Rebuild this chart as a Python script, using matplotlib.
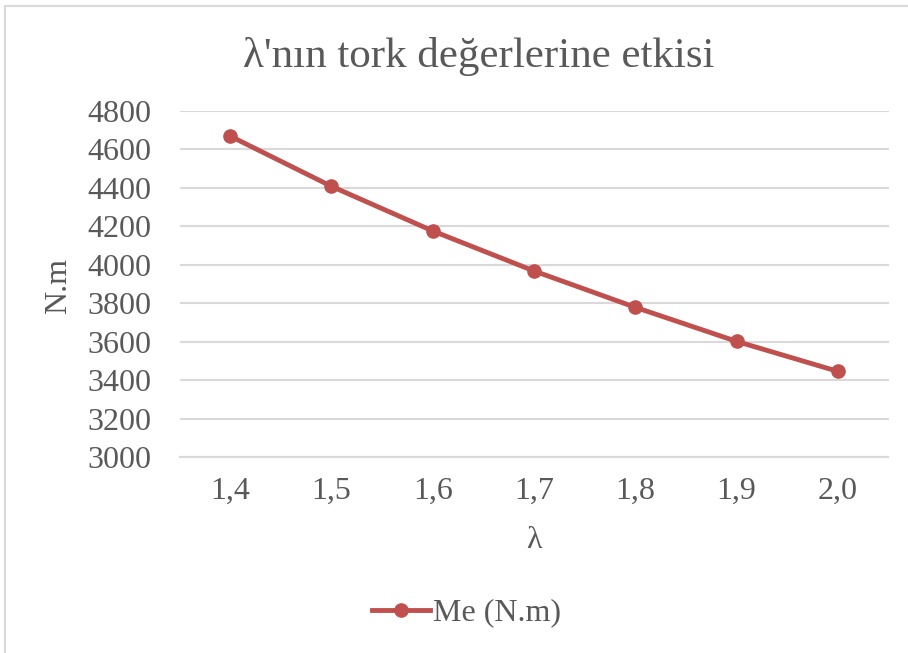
import matplotlib.pyplot as plt
from matplotlib.patches import Rectangle

## Data
lam = ['1,4', '1,5', '1,6', '1,7', '1,8', '1,9', '2,0']
me = [4668, 4407, 4175, 3967, 3778, 3601, 3445]
yticks = [3000, 3200, 3400, 3600, 3800, 4000, 4200, 4400, 4600, 4800]

plt.rcParams['font.family'] = ['Liberation Serif', 'DejaVu Serif']
txt = '#595959'
red = '#C0504D'
grid = '#D9D9D9'

fig = plt.figure(figsize=(9.08, 6.53), dpi=100)

## Chart border (cropped at right/bottom like the picture)
fig.patches.append(Rectangle((5 / 908, -0.1), 1.2, 1 - 6 / 653 + 0.1,
                             transform=fig.transFigure, fill=False,
                             edgecolor=grid, linewidth=1.5))

ax = fig.add_axes([179.5 / 908, 1 - 457 / 653, 709 / 908, (457 - 110.7) / 653])
x = range(len(lam))
ax.plot(x, me, color=red, linewidth=3.5, marker='o', markersize=9.5,
        label='Me (N.m)')

ax.set_xlim(-0.5, len(lam) - 0.5)
ax.set_ylim(3000, 4800)
ax.set_yticks(yticks)
ax.set_xticks(list(x))
ax.set_xticklabels(lam)
ax.grid(axis='y', color=grid, linewidth=1.5)
ax.set_axisbelow(True)
for s in ['top', 'right', 'left']:
    ax.spines[s].set_visible(False)
ax.spines['bottom'].set_color(grid)
ax.spines['bottom'].set_linewidth(1.5)
ax.tick_params(length=0, labelsize=23, colors=txt)
ax.tick_params(axis='y', pad=20)
ax.tick_params(axis='x', pad=14)

fig.text(59 / 908, 1 - 286 / 653, 'N.m', rotation=90, ha='center',
         va='center', fontsize=23, color=txt)
fig.text(534 / 908, 1 - 540 / 653, 'λ', ha='center', va='center',
         fontsize=23, color=txt)

fig.text(479 / 908, 1 - 66.7 / 653, "λ'nın tork değerlerine etkisi",
         ha='center', va='baseline', fontsize=31, color=txt)

leg = fig.legend(loc='center', bbox_to_anchor=(466.5 / 908, 1 - 613 / 653),
                 frameon=False, fontsize=23, handlelength=1.8,
                 handletextpad=0.1, labelcolor=txt)

fig.savefig('out.png', dpi=100)
